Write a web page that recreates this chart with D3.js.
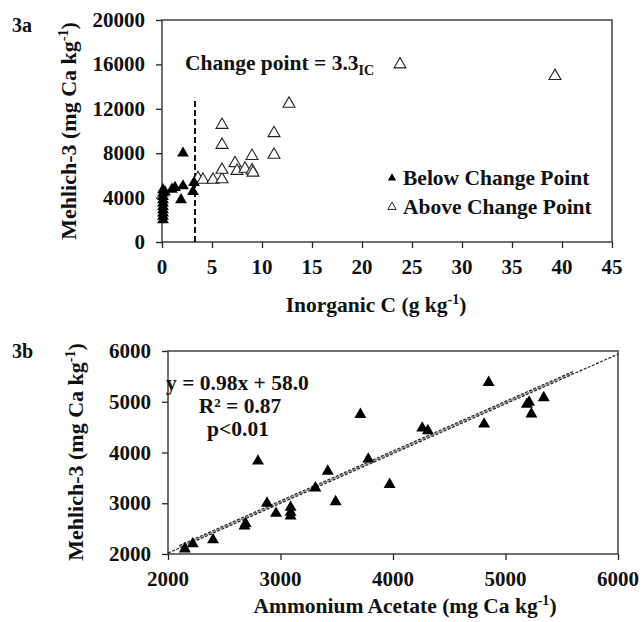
<!DOCTYPE html>
<html>
<head>
<meta charset="utf-8">
<script src="https://cdn.jsdelivr.net/npm/d3@7"></script>
<style>
    body { margin: 0; background: #fff; }
</style>
</head>
<body>
<div id="chart"></div>
<script>
// ---- 3a : Mehlich-3 vs inorganic C ----
const belowX = [0.1, 0.1, 0.1, 0.1, 0.1, 0.1, 0.1, 0.1, 0.1, 0.1, 0.3, 1.0, 1.3, 1.9, 2.1, 2.1, 3.1, 3.2];
const belowY = [2000, 2300, 2600, 2900, 3200, 3500, 3800, 4100, 4400, 4700, 4500, 4750, 4900, 3800, 8000, 5050, 4550, 5350];
const aboveX = [3.6, 4.1, 5.1, 6.0, 6.0, 6.0, 6.0, 7.3, 7.5, 8.3, 9.0, 9.0, 9.1, 11.2, 11.2, 12.7, 23.8, 39.3];
const aboveY = [5750, 5600, 5600, 5650, 6500, 8750, 10550, 7100, 6400, 6600, 7750, 6450, 6250, 7850, 9800, 12450, 16000, 14950];
const changePoint = 3.3;
const changeLineTop = 13000;
const xTicksA = [0, 5, 10, 15, 20, 25, 30, 35, 40, 45];
const yTicksA = [0, 4000, 8000, 12000, 16000, 20000];

// ---- 3b : Mehlich-3 vs ammonium acetate ----
const acetateX = [2150, 2220, 2400, 2680, 2690, 2800, 2880, 2960, 3090, 3090, 3090, 3310, 3420, 3490, 3710, 3780, 3970, 4260, 4310, 4810, 4850, 5190, 5210, 5230, 5340];
const mehlichY = [2100, 2200, 2280, 2550, 2600, 3830, 3000, 2800, 2920, 2820, 2750, 3300, 3630, 3030, 4750, 3870, 3370, 4480, 4430, 4560, 5380, 4950, 4990, 4760, 5080];
const slope = 0.98, intercept = 58.0;
const fitRange = [2000, 6000];
const bandRange = [2100, 5600];
const bandOffsets = [25, 50];
const ticksB = [2000, 3000, 4000, 5000, 6000];

const FONT = '"Liberation Serif", "Times New Roman", serif';
const W = 642, H = 622;
const svg = d3.select('#chart').append('svg')
    .attr('width', W)
    .attr('height', H)
    .attr('font-family', FONT)
    .attr('font-weight', 'bold');

svg.append('rect').attr('width', W).attr('height', H).attr('fill', '#fff');

const tri = d3.symbol().type(d3.symbolTriangle);

// petit helper pour "kg-1" en exposant
function unitLabel(sel, before, after) {
    sel.append('tspan').text(before);
    sel.append('tspan').attr('dy', -8).attr('font-size', 14).text('-1');
    sel.append('tspan').attr('dy', 8).text(after);
}

function txt(x, y, size) {
    return svg.append('text')
        .attr('x', x).attr('y', y)
        .attr('font-family', FONT)
        .attr('font-weight', 'bold')
        .attr('font-size', size)
        .attr('fill', '#111');
}

function frame(x, y, xTicks, yTicks) {
    const [x0, x1] = x.range();
    const [y0, y1] = y.range();
    svg.append('g')
        .attr('transform', `translate(0,${y0})`)
        .call(d3.axisBottom(x).tickValues(xTicks).tickSize(6).tickFormat(''))
        .call(g => g.select('.domain').remove());
    svg.append('g')
        .attr('transform', `translate(${x0},0)`)
        .call(d3.axisLeft(y).tickValues(yTicks).tickSize(6).tickFormat(''))
        .call(g => g.select('.domain').remove());
    svg.selectAll('.tick line').attr('stroke', '#222').attr('stroke-width', 1.3);
    svg.append('rect')
        .attr('x', x0).attr('y', y1)
        .attr('width', x1 - x0).attr('height', y0 - y1)
        .attr('fill', 'none').attr('stroke', '#333').attr('stroke-width', 1.4);

    xTicks.forEach(d => txt(x(d), y0 + 32, 21).attr('text-anchor', 'middle').text(d));
    yTicks.forEach(d => txt(x0 - 17, y(d) + 7, 21).attr('text-anchor', 'end').text(d));
}

// ---------------- 3a ----------------
const xA = d3.scaleLinear().domain([0, 45]).range([162, 612]);
const yA = d3.scaleLinear().domain([0, 20000]).range([242, 20]);
frame(xA, yA, xTicksA, yTicksA);

svg.append('line')
    .attr('x1', xA(changePoint)).attr('x2', xA(changePoint))
    .attr('y1', yA(0)).attr('y2', yA(changeLineTop))
    .attr('stroke', '#111').attr('stroke-width', 2)
    .attr('stroke-dasharray', '6,3');

svg.append('g').selectAll('path')
    .data(aboveX.map((d, i) => [d, aboveY[i]]))
    .enter().append('path')
    .attr('d', tri.size(62)())
    .attr('transform', d => `translate(${xA(d[0])},${yA(d[1])})`)
    .attr('fill', '#fff').attr('stroke', '#222').attr('stroke-width', 1.1);

svg.append('g').selectAll('path')
    .data(belowX.map((d, i) => [d, belowY[i]]))
    .enter().append('path')
    .attr('d', tri.size(60)())
    .attr('transform', d => `translate(${xA(d[0])},${yA(d[1])})`)
    .attr('fill', '#000');

const cp = txt(185, 70, 21.5);
cp.append('tspan').text('Change point = 3.3');
cp.append('tspan').attr('dy', 5).attr('font-size', 14).text('IC');

// legende
const legend = [
    { label: 'Below Change Point', filled: true, y: 178 },
    { label: 'Above Change Point', filled: false, y: 207 }
];
legend.forEach(item => {
    svg.append('path')
        .attr('d', tri.size(30)())
        .attr('transform', `translate(392,${item.y})`)
        .attr('fill', item.filled ? '#000' : '#fff')
        .attr('stroke', item.filled ? 'none' : '#222')
        .attr('stroke-width', 1);
    txt(403, item.y + 7, 21.5).text(item.label);
});

txt(12, 32, 20).text('3a');

const titleXA = txt(376, 312, 21.5).attr('text-anchor', 'middle');
unitLabel(titleXA, 'Inorganic C (g kg', ')');

const titleYA = txt(0, 0, 22)
    .attr('transform', 'translate(76,131) rotate(-90)')
    .attr('text-anchor', 'middle');
unitLabel(titleYA, 'Mehlich-3 (mg Ca kg', ')');

// ---------------- 3b ----------------
const xB = d3.scaleLinear().domain([2000, 6000]).range([168, 618]);
const yB = d3.scaleLinear().domain([2000, 6000]).range([554, 351]);
frame(xB, yB, ticksB, ticksB);

const fit = v => slope * v + intercept;
const lineB = d3.line().x(d => xB(d[0])).y(d => yB(d[1]));

svg.append('path')
    .attr('d', lineB(bandRange.map(v => [v, fit(v) + bandOffsets[0]])))
    .attr('fill', 'none').attr('stroke', '#999').attr('stroke-width', 1.2);
svg.append('path')
    .attr('d', lineB(bandRange.map(v => [v, fit(v) + bandOffsets[1]])))
    .attr('fill', 'none').attr('stroke', '#222').attr('stroke-width', 1.2)
    .attr('stroke-dasharray', '3,1.5');
svg.append('path')
    .attr('d', lineB(fitRange.map(v => [v, fit(v)])))
    .attr('fill', 'none').attr('stroke', '#222').attr('stroke-width', 1.2)
    .attr('stroke-dasharray', '3,1.5');

svg.append('g').selectAll('path')
    .data(acetateX.map((d, i) => [d, mehlichY[i]]))
    .enter().append('path')
    .attr('d', tri.size(62)())
    .attr('transform', d => `translate(${xB(d[0])},${yB(d[1])})`)
    .attr('fill', '#000');

txt(166, 390, 21.5).text('y = 0.98x + 58.0');
txt(240, 413, 21.5).attr('text-anchor', 'middle').text('R² = 0.87');
txt(238, 436, 21.5).attr('text-anchor', 'middle').text('p<0.01');

txt(12, 358, 20).text('3b');

const titleXB = txt(405, 613, 21.5).attr('text-anchor', 'middle');
unitLabel(titleXB, 'Ammonium Acetate (mg Ca kg', ')');

const titleYB = txt(0, 0, 22)
    .attr('transform', 'translate(83,452) rotate(-90)')
    .attr('text-anchor', 'middle');
unitLabel(titleYB, 'Mehlich-3 (mg Ca kg', ')');
</script>
</body>
</html>
